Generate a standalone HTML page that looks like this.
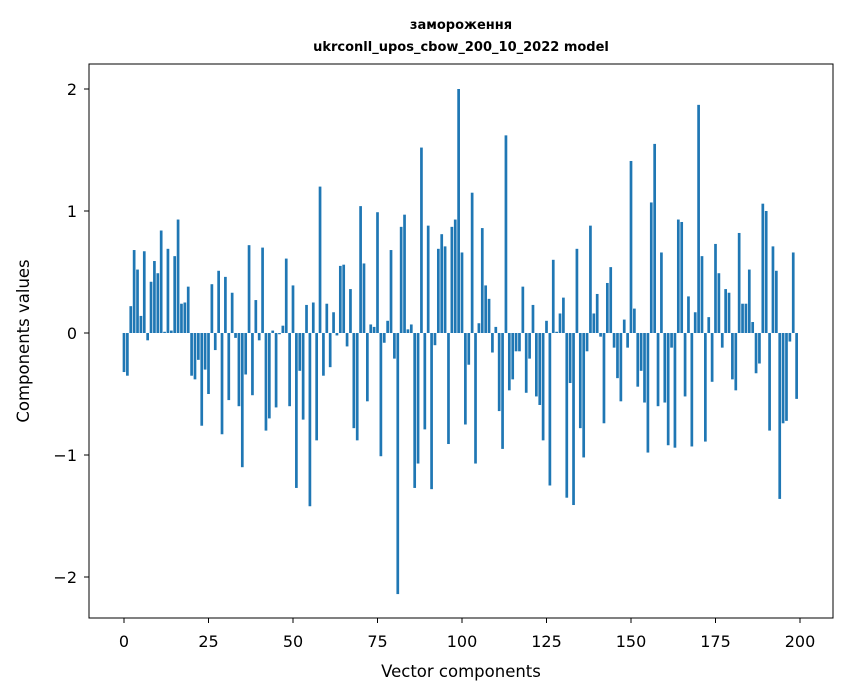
<!DOCTYPE html>
<html><head><meta charset="utf-8"><style>
body{margin:0;background:#fff;}
svg{display:block;font-family:"DejaVu Sans","Liberation Sans",sans-serif;}
</style></head><body>
<svg id="chart" width="847" height="696" viewBox="0 0 847 696">
<rect width="847" height="696" fill="#fff"/>
<text x="461" y="29" text-anchor="middle" font-size="13" font-weight="bold">замороження</text>
<text x="461" y="51" text-anchor="middle" font-size="13" font-weight="bold">ukrconll_upos_cbow_200_10_2022 model</text>
<g id="bars"></g>
<g id="xticks"></g>
<g id="yticks"></g>
<rect x="89" y="64" width="744" height="554" fill="none" stroke="#000" stroke-width="1"/>
<text x="461" y="677" text-anchor="middle" font-size="16.5">Vector components</text>
<text transform="translate(29,341) rotate(-90)" text-anchor="middle" font-size="16.5">Components values</text>
</svg>
<script>
const values = [
-0.32,-0.35,0.22,0.68,0.52,0.14,0.67,-0.06,0.42,0.59,
0.49,0.84,0.01,0.69,0.02,0.63,0.93,0.24,0.25,0.38,
-0.35,-0.38,-0.22,-0.76,-0.30,-0.50,0.40,-0.14,0.51,-0.83,
0.46,-0.55,0.33,-0.04,-0.60,-1.10,-0.34,0.72,-0.51,0.27,
-0.06,0.70,-0.80,-0.70,0.02,-0.61,-0.01,0.06,0.61,-0.60,
0.39,-1.27,-0.31,-0.71,0.23,-1.42,0.25,-0.88,1.20,-0.35,
0.24,-0.28,0.17,-0.02,0.55,0.56,-0.11,0.36,-0.78,-0.88,
1.04,0.57,-0.56,0.07,0.05,0.99,-1.01,-0.08,0.10,0.68,
-0.21,-2.14,0.87,0.97,0.03,0.07,-1.27,-1.07,1.52,-0.79,
0.88,-1.28,-0.10,0.69,0.81,0.71,-0.91,0.87,0.93,2.00,
0.66,-0.75,-0.26,1.15,-1.07,0.08,0.86,0.39,0.28,-0.16,
0.05,-0.64,-0.95,1.62,-0.47,-0.38,-0.15,-0.15,0.38,-0.49,
-0.21,0.23,-0.52,-0.59,-0.88,0.10,-1.25,0.60,0.01,0.16,
0.29,-1.35,-0.41,-1.41,0.69,-0.78,-1.02,-0.15,0.88,0.16,
0.32,-0.03,-0.74,0.41,0.54,-0.12,-0.37,-0.56,0.11,-0.12,
1.41,0.20,-0.44,-0.31,-0.57,-0.98,1.07,1.55,-0.60,0.66,
-0.57,-0.92,-0.12,-0.94,0.93,0.91,-0.52,0.30,-0.93,0.17,
1.87,0.63,-0.89,0.13,-0.40,0.73,0.49,-0.12,0.36,0.33,
-0.38,-0.47,0.82,0.24,0.24,0.52,0.09,-0.33,-0.25,1.06,
1.00,-0.80,0.71,0.51,-1.36,-0.74,-0.72,-0.07,0.66,-0.54
];
const xTickLabels = [0,25,50,75,100,125,150,175,200];
const yTickLabels = [-2,-1,0,1,2];

const NS = "http://www.w3.org/2000/svg";
const xScale = v => 124 + v * (676 / 200);
const yScale = v => 333 - v * 122;

const barsG = document.getElementById('bars');
values.forEach((v, i) => {
  const r = document.createElementNS(NS, 'rect');
  const x0 = xScale(i - 0.4), x1 = xScale(i + 0.4);
  const y0 = yScale(Math.max(v, 0)), y1 = yScale(Math.min(v, 0));
  r.setAttribute('x', x0);
  r.setAttribute('y', y0);
  r.setAttribute('width', x1 - x0);
  r.setAttribute('height', Math.max(y1 - y0, 0.3));
  r.setAttribute('fill', '#1f77b4');
  
  
  barsG.appendChild(r);
});

const xg = document.getElementById('xticks');
xTickLabels.forEach(t => {
  const x = xScale(t);
  const l = document.createElementNS(NS, 'line');
  l.setAttribute('x1', x); l.setAttribute('x2', x);
  l.setAttribute('y1', 618); l.setAttribute('y2', 623);
  l.setAttribute('stroke', '#000');
  
  
  xg.appendChild(l);
  const tx = document.createElementNS(NS, 'text');
  tx.setAttribute('x', x); tx.setAttribute('y', 647);
  tx.setAttribute('text-anchor', 'middle');
  tx.setAttribute('font-size', '16');
  tx.textContent = t;
  
  
  xg.appendChild(tx);
});

const yg = document.getElementById('yticks');
yTickLabels.forEach(t => {
  const y = yScale(t);
  const l = document.createElementNS(NS, 'line');
  l.setAttribute('x1', 84); l.setAttribute('x2', 89);
  l.setAttribute('y1', y); l.setAttribute('y2', y);
  l.setAttribute('stroke', '#000');
  
  
  yg.appendChild(l);
  const tx = document.createElementNS(NS, 'text');
  tx.setAttribute('x', 77); tx.setAttribute('y', y + 6);
  tx.setAttribute('text-anchor', 'end');
  tx.setAttribute('font-size', '16');
  tx.textContent = t < 0 ? '\u2212' + Math.abs(t) : String(t);
  
  
  yg.appendChild(tx);
});
</script>
</body></html>
